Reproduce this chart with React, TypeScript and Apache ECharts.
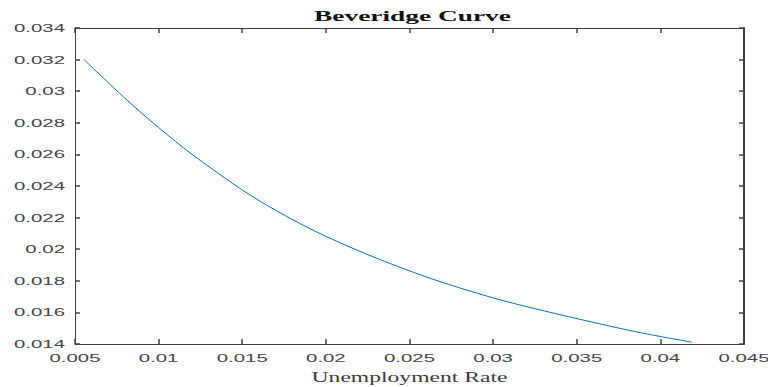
import React, { useEffect, useRef } from "react";
import * as echarts from "echarts";

const unemployment = [0.00554, 0.008, 0.01, 0.012, 0.015, 0.0169, 0.0189, 0.0208, 0.0228, 0.0248, 0.0264, 0.0284, 0.0304, 0.0324, 0.0352, 0.0386, 0.0419];
const vacancies = [0.032, 0.02954, 0.0277, 0.026, 0.02375, 0.02252, 0.02138, 0.02043, 0.01953, 0.01871, 0.0181, 0.01742, 0.0168, 0.01626, 0.01556, 0.01476, 0.01411];

const xTicks = [0.005, 0.01, 0.015, 0.02, 0.025, 0.03, 0.035, 0.04, 0.045];
const yTicks = [0.014, 0.016, 0.018, 0.02, 0.022, 0.024, 0.026, 0.028, 0.03, 0.032, 0.034];
const xTickLabels = ["0.005", "0.01", "0.015", "0.02", "0.025", "0.03", "0.035", "0.04", "0.045"];
const yTickLabels = ["0.014", "0.016", "0.018", "0.02", "0.022", "0.024", "0.026", "0.028", "0.03", "0.032", "0.034"];

const titleText = "Beveridge Curve";
const xLabel = "Unemployment Rate";

function measure(text: string, font: string): number {
  const c = document.createElement("canvas").getContext("2d");
  if (!c) return text.length * 6;
  c.font = font;
  return c.measureText(text).width;
}

export default function App() {
  const ref = useRef<HTMLDivElement>(null);
  useEffect(() => {
    if (!ref.current) return;
    const chart = echarts.init(ref.current, null, { renderer: "svg" });
    const axisColor = "#404040";
    const commonAxis = {
      type: "value",
      splitLine: { show: false },
      axisLabel: { show: false },
    };
    const tick = { show: true, inside: true, length: 5, lineStyle: { color: axisColor, width: 1.5 } };
    chart.setOption({
      animation: false,
      backgroundColor: "#ffffff",
      grid: { left: 75, right: 24, top: 28, bottom: 43, containLabel: false },
      xAxis: [
        {
          ...commonAxis,
          min: 0.005,
          max: 0.045,
          interval: 0.005,
          position: "bottom",
          axisLine: { show: true, onZero: false, lineStyle: { color: axisColor, width: 1 } },
          axisTick: tick,
        },
        {
          ...commonAxis,
          min: 0.005,
          max: 0.045,
          interval: 0.005,
          position: "top",
          axisLine: { show: true, onZero: false, lineStyle: { color: axisColor, width: 1 } },
          axisTick: tick,
        },
      ],
      yAxis: [
        {
          ...commonAxis,
          min: 0.014,
          max: 0.034,
          interval: 0.002,
          position: "left",
          axisLine: { show: true, onZero: false, lineStyle: { color: axisColor, width: 1 } },
          axisTick: tick,
        },
        {
          ...commonAxis,
          min: 0.014,
          max: 0.034,
          interval: 0.002,
          position: "right",
          axisLine: { show: true, onZero: false, lineStyle: { color: axisColor, width: 2 } },
          axisTick: tick,
        },
      ],
      series: [
        {
          type: "line",
          xAxisIndex: 0,
          yAxisIndex: 0,
          data: unemployment.map((u, i) => [u, vacancies[i]]),
          showSymbol: false,
          smooth: 0.3,
          lineStyle: { color: "#0072BD", width: 1 },
        },
      ],
    });

    const tickFont = '11px "Liberation Sans"';
    const tickScale = 51 / measure("0.034", tickFont);
    const titleFont = 'bold 14px "Liberation Serif"';
    const titleScale = 197 / measure(titleText, titleFont);
    const nameFont = '15px "Liberation Serif"';
    const nameScale = 196 / measure(xLabel, nameFont);

    const xBase = chart.convertToPixel({ yAxisIndex: 0 }, 0.014) as number;
    const yLeft = chart.convertToPixel({ xAxisIndex: 0 }, 0.005) as number;
    const yTop = chart.convertToPixel({ yAxisIndex: 0 }, 0.034) as number;
    const xLeft = yLeft;
    const xRight = chart.convertToPixel({ xAxisIndex: 0 }, 0.045) as number;
    const cx = (xLeft + xRight) / 2;

    const elements: any[] = [];
    xTicks.forEach((v, i) => {
      elements.push({
        type: "text",
        x: chart.convertToPixel({ xAxisIndex: 0 }, v) as number,
        y: xBase + 14,
        scaleX: tickScale,
        style: {
          text: xTickLabels[i],
          font: tickFont,
          fill: "#454545",
          align: "center",
          verticalAlign: "middle",
        },
      });
    });
    yTicks.forEach((v, i) => {
      elements.push({
        type: "text",
        x: yLeft - 10,
        y: chart.convertToPixel({ yAxisIndex: 0 }, v) as number,
        scaleX: tickScale,
        style: {
          text: yTickLabels[i],
          font: tickFont,
          fill: "#454545",
          align: "right",
          verticalAlign: "middle",
        },
      });
    });
    elements.push({
      type: "text",
      x: cx + 3,
      y: yTop - 12,
      scaleX: titleScale,
      style: { text: titleText, font: titleFont, fill: "#111", align: "center", verticalAlign: "middle" },
    });
    elements.push({
      type: "text",
      x: cx,
      y: xBase + 33,
      scaleX: nameScale,
      style: { text: xLabel, font: nameFont, fill: "#3a3a3a", align: "center", verticalAlign: "middle" },
    });
    chart.setOption({ graphic: elements });

    return () => chart.dispose();
  }, []);
  return <div ref={ref} style={{ position: "fixed", left: 0, top: 0, width: 768, height: 387 }} />;
}
